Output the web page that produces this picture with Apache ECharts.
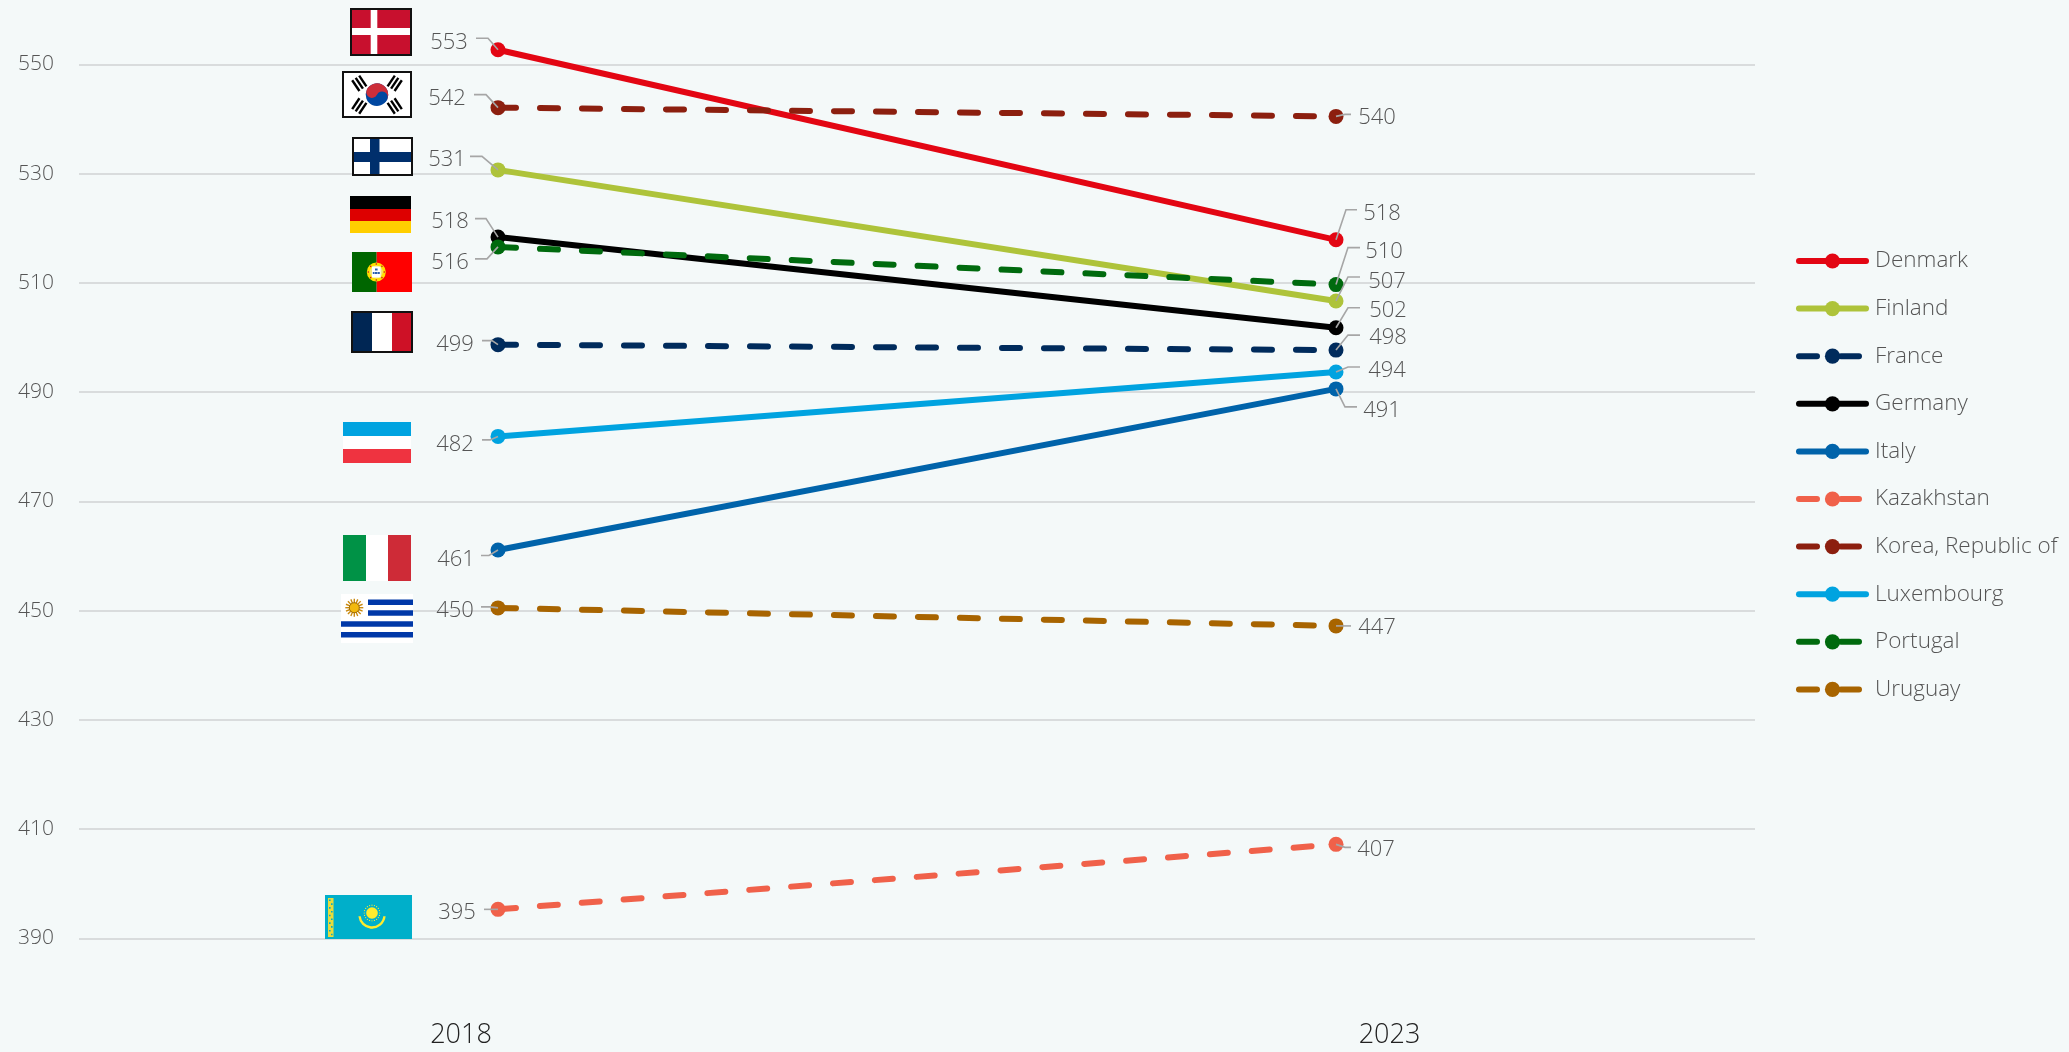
<!DOCTYPE html>
<html><head><meta charset="utf-8">
<style>html,body{margin:0;padding:0;background:#F4F9F9}#c{width:2069px;height:1052px}</style>
<script src="https://cdn.jsdelivr.net/npm/echarts@6/dist/echarts.min.js"></script>
</head><body><div id="c"></div>
<script>
const years = ['2018', '2023'];
const yTicks = [390, 410, 430, 450, 470, 490, 510, 530, 550];
const countries = ['Denmark','Finland','France','Germany','Italy','Kazakhstan','Korea, Republic of','Luxembourg','Portugal','Uruguay'];
const denmark = [552.7, 517.9];
const finland = [530.7, 506.7];
const france = [498.7, 497.7];
const germany = [518.4, 501.8];
const italy = [461.1, 490.6];
const kazakhstan = [395.3, 407.2];
const korea = [542.1, 540.5];
const luxembourg = [481.9, 493.7];
const portugal = [516.6, 509.7];
const uruguay = [450.5, 447.2];
const shownDenmark = ['553','518'];
const shownFinland = ['531','507'];
const shownFrance = ['499','498'];
const shownGermany = ['518','502'];
const shownItaly = ['461','491'];
const shownKazakhstan = ['395','407'];
const shownKorea = ['542','540'];
const shownLuxembourg = ['482','494'];
const shownPortugal = ['516','510'];
const shownUruguay = ['450','447'];

const FONT = '"Open Sans","Noto Sans",sans-serif';
const lineColors = ['#E30613','#AEC33A','#002B5C','#000000','#0063AA','#F0614A','#8C1F0F','#00A3E0','#006A0E','#A86400'];
const dashed = [false,false,true,false,false,true,true,false,true,true];
const allValues = [denmark,finland,france,germany,italy,kazakhstan,korea,luxembourg,portugal,uruguay];
const allShown = [shownDenmark,shownFinland,shownFrance,shownGermany,shownItaly,shownKazakhstan,shownKorea,shownLuxembourg,shownPortugal,shownUruguay];
// leader layout per series and year: [kneeDx, kneeY offset, endDx, textCenterDx, textY offset]
const leaders = [
 [[-10,-11.5,-22,-49,-7.5],[10,-30,21,46,-26.5]],
 [[-16,-13.5,-28,-51,-10],[12,-24,24,51,-19.5]],
 [[-6,-4,-16,-43,0],[12,-15,24,52,-12.5]],
 [[-12,-18.5,-23,-48,-15],[12,-20,24,52,-16.5]],
 [[-9,5.5,-17,-42,10],[9,18,21,46,21.5]],
 [[-8,0,-14,-41,3],[9,3,15,40,5]],
 [[-12,-13,-24,-51,-9],[9,-2,15,41,1.5]],
 [[-8,3.5,-16,-43,8.5],[12,-5,24,51,-1.5]],
 [[-11,12,-23,-48,15.5],[12,-37,24,48,-32.5]],
 [[-8,-1,-17,-43,2.5],[9,0,15,41,2]]
];

const series = countries.map((name,i)=>({
  name, type:'line', data:allValues[i], symbol:'circle', symbolSize:15, clip:false, z:3,
  lineStyle:{color:lineColors[i],width:6,cap:'round',type:dashed[i]?[18,24]:'solid'},
  itemStyle:{color:lineColors[i]}, emphasis:{disabled:true}
}));
const leaderRows = [];
countries.forEach((c,i)=>years.forEach((y,j)=>leaderRows.push([j,allValues[i][j],i,j])));
series.push({
  type:'custom', name:'labels', z:6, clip:false, silent:true, data:leaderRows,
  encode:{x:0,y:1},
  renderItem(params,api){
    const i=api.value(2), j=api.value(3);
    const p=api.coord([api.value(0),api.value(1)]);
    const l=leaders[i][j];
    return {type:'group',children:[
      {type:'polyline',shape:{points:[[p[0],p[1]],[p[0]+l[0],p[1]+l[1]],[p[0]+l[2],p[1]+l[1]]]},
       style:{stroke:'#A6A6A6',lineWidth:1.6,fill:null}},
      {type:'text',x:p[0]+l[3],y:p[1]+l[4],
       style:{text:allShown[i][j],fill:'#555555',font:'300 22px '+FONT,textAlign:'center',textVerticalAlign:'middle'}}
    ]};
  }
});

/* flags */
const R=(x,y,w,h,fill,z)=>({type:'rect',shape:{x,y,width:w,height:h},style:{fill},z:z||1,silent:true});
const C=(cx,cy,r,fill,stroke,lw)=>({type:'circle',shape:{cx,cy,r},style:{fill:fill||null,stroke:stroke||null,lineWidth:lw||1},z:2,silent:true});
const L=(x1,y1,x2,y2,stroke,lw)=>({type:'line',shape:{x1,y1,x2,y2},style:{stroke,lineWidth:lw},z:2,silent:true});
const F=[];
const border=(x,y,w,h)=>({type:'rect',shape:{x:x+1,y:y+1,width:w-2,height:h-2},style:{fill:null,stroke:'#111',lineWidth:2},z:3,silent:true});
// Denmark
F.push(R(350,8,62,48,'#C8102E'),R(370.7,8,6.6,48,'#fff'),R(350,28,62,7,'#fff'),border(350,8,62,48));
// Korea
F.push(R(342,71,70,47,'#fff'),border(342,71,70,47));
F.push({type:'group',x:377,y:94.7,rotation:-0.45,silent:true,children:[
  C(0,0,11.3,'#0047A0'),
  {type:'sector',shape:{cx:0,cy:0,r:11.3,r0:0,startAngle:Math.PI,endAngle:2*Math.PI},style:{fill:'#CD2E3A'},z:2},
  C(-5.65,0,5.65,'#CD2E3A'),C(5.65,0,5.65,'#0047A0')]});
[[359.3,83.3,-1],[394.7,83.3,1],[359.3,106,1],[394.7,106,-1]].forEach(t=>{
  const a=t[2]*0.98; // bars lie across the diagonal
  const ch=[-4.2,0,4.2].map(d=>L(-6.5,d,6.5,d,'#000',2.4));
  F.push({type:'group',x:t[0],y:t[1],rotation:a,silent:true,children:ch});
});
// Finland
F.push(R(352,137,61,39,'#fff'),R(370,137,9.5,39,'#002F6C'),R(352,152,61,10,'#002F6C'),border(352,137,61,39));
// Germany
F.push(R(350,196,61,13,'#000'),R(350,209,61,12,'#DD0000'),R(350,221,61,12,'#FFCE00'));
// Portugal
F.push(R(352,252,24.7,40,'#006600'),R(376.7,252,35.3,40,'#FF0000'));
F.push(C(376.3,272,8,'#F4E77A','#FFE000',3),R(372,266.5,8.6,11,'#fff',3));
for(let k=0;k<8;k++){const a=k*Math.PI/4;F.push(C(376.3+Math.cos(a)*8,272+Math.sin(a)*8,0.8,'#C8102E'));}
F.push(R(375,268.5,2.6,2,'#2A5FB0',3),R(375,272,2.6,2,'#2A5FB0',3),R(372.8,272,1.8,2,'#2A5FB0',3),R(378,272,1.8,2,'#2A5FB0',3));
// France
F.push(R(351,311,21,42,'#002654'),R(372,311,20,42,'#fff'),R(392,311,21,42,'#CE1126'),border(351,311,62,42));
// Luxembourg
F.push(R(343,422,68,14,'#00A3E0'),R(343,436,68,13,'#fff'),R(343,449,68,14,'#EF3340'));
// Italy
F.push(R(343,535,23,46,'#009246'),R(366,535,22,46,'#fff'),R(388,535,23,46,'#CE2B37'));
// Uruguay
F.push(R(341,594,72,49,'#fff'));
for(let k=1;k<=4;k++){const yy=594+(2*k-1)*5.44;F.push(R(k<=2?368:341,yy,k<=2?45:72,5.44,'#0038A8'));}
for(let k=0;k<16;k++){const a=k*Math.PI/8;F.push(L(354.3+Math.cos(a)*4,607.7+Math.sin(a)*4,354.3+Math.cos(a)*9,607.7+Math.sin(a)*9,'#C98A10',1.4));}
F.push(C(354.3,607.7,5,'#F2B90F','#8C5A00',0.8));
// Kazakhstan
F.push(R(325,895,87,44,'#00AFCA'));
F.push(R(328,898,5.5,39,'#E8DC3C'));
for(let k=0;k<10;k++)F.push(R(329+(k%2)*2,899.5+k*3.8,1.6,1.6,'#00AFCA',3));
F.push(C(372,913,5.8,'#FFEC2D'));
for(let k=0;k<20;k++){const a=k*Math.PI/10;F.push(C(372+Math.cos(a)*7.8,913+Math.sin(a)*7.8,0.6,'#FFEC2D'));}
F.push({type:'arc',shape:{cx:372,cy:915,r:12.5,startAngle:0.1,endAngle:Math.PI-0.1},style:{stroke:'#FFEC2D',lineWidth:2.4,fill:null},z:2,silent:true});
F.push({type:'arc',shape:{cx:372,cy:916,r:11.5,startAngle:1.0,endAngle:Math.PI-1.0},style:{stroke:'#FFEC2D',lineWidth:1.2,fill:null},z:2,silent:true});

const chart = echarts.init(document.getElementById('c'));
chart.setOption({
  backgroundColor:'#F4F9F9', animation:false, tooltip:{show:false},
  grid:{left:79,top:64.5,width:1676,height:873.8,containLabel:false},
  xAxis:{type:'category',data:years,boundaryGap:true,
    axisLine:{show:false},axisTick:{show:false},splitLine:{show:false},
    axisLabel:{margin:84,interval:0,color:'#222222',fontFamily:FONT,fontWeight:300,fontSize:27,
      formatter:v=>v==='2018'?'{a|2018}':'{b|2023}',
      rich:{a:{padding:[0,74,0,0],fontFamily:FONT,fontWeight:300,fontSize:27,color:'#222222'},
            b:{padding:[0,0,0,107],fontFamily:FONT,fontWeight:300,fontSize:27,color:'#222222'}}}},
  yAxis:{type:'value',min:yTicks[0],max:yTicks[yTicks.length-1],interval:20,
    axisLine:{show:false},axisTick:{show:false},
    splitLine:{show:true,lineStyle:{color:'#D9DCDD',width:2}},
    axisLabel:{margin:25,align:'right',color:'#555555',fontFamily:FONT,fontWeight:300,fontSize:21,padding:[2,0,0,0]}},
  legend:{data:countries,orient:'vertical',left:1796,top:249.5,padding:0,itemWidth:67,itemHeight:19,itemGap:24.6,
    selectedMode:false,lineStyle:{width:6,cap:'round'},
    textStyle:{color:'#555555',fontFamily:FONT,fontWeight:300,fontSize:22.5,padding:[0,0,0,4]}},
  graphic:{elements:F},
  series
});
</script></body></html>
